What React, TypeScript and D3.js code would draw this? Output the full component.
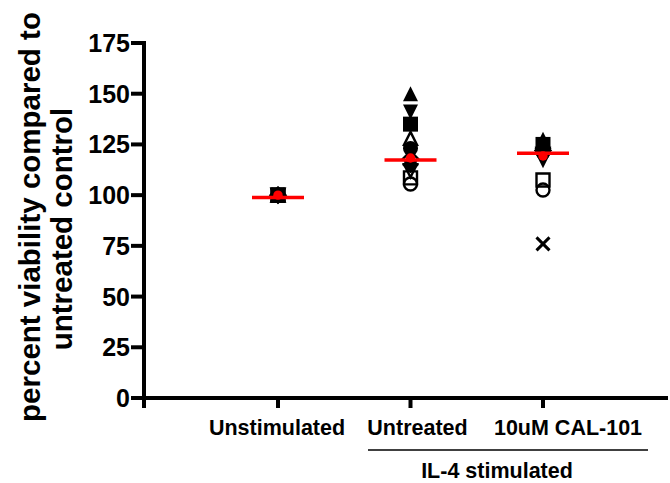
import React from "react";
import * as d3 from "d3";

const categories = ["Unstimulated", "Untreated", "10uM CAL-101"];
const donorSymbols = [
  "circle", "square", "triangle", "triangleDown", "diamond",
  "circleOpen", "squareOpen", "triangleOpen", "triangleDownOpen", "diamondOpen", "cross",
];
const unstimulatedValues = [100, 100, 100, 100, 100, 100, 100, 100, 100, 100, 100];
const untreatedValues = [123, 135, 150, 141, 115, 105.5, 108.5, 128, 112, 118, null];
const cal101Values = [121, 125, 127.5, 117, 123, 102.5, 107.5, 124, 120, 122, 76];
const groupMeans = [100, 118.3, 119.3];
const groupLines = [98.8, 117.3, 120.6];
const yTicks = [0, 25, 50, 75, 100, 125, 150, 175];
const groupLabel = "IL-4 stimulated";
const yTitle = ["percent viability compared to", "untreated control"];

const W = 670, H = 483;
const FONT = "Arial, 'Liberation Sans', Helvetica, sans-serif";

function symbolPath(kind: string, s: number): string {
  const h = s / 2;
  switch (kind.replace("Open", "")) {
    case "circle": {
      const p = d3.path();
      p.arc(0, 0, h, 0, Math.PI * 2);
      p.closePath();
      return p.toString();
    }
    case "square":
      return `M${-h},${-h}H${h}V${h}H${-h}Z`;
    case "triangle":
      return `M0,${-h}L${h},${h}L${-h},${h}Z`;
    case "triangleDown":
      return `M0,${h}L${h},${-h}L${-h},${-h}Z`;
    case "diamond":
      return `M0,${-h - 1}L${h + 1},0L0,${h + 1}L${-h - 1},0Z`;
    case "cross":
      return `M${-h},${-h}L${h},${h}M${h},${-h}L${-h},${h}`;
  }
  return "";
}

export default function App() {
  const x = d3.scalePoint<string>().domain(categories).range([278, 543]).padding(0);
  const y = d3.scaleLinear().domain([0, 175]).range([398, 43]);
  const groups = [unstimulatedValues, untreatedValues, cal101Values];
  const labelShift = [-1, 7, 25];
  const axisLeft = 144;
  const axisRight = 668;

  return (
    <svg width={W} height={H} style={{ position: "absolute", left: 0, top: 0, background: "#fff" }}
      fontFamily={FONT}>
      {/* Y axis */}
      <line x1={axisLeft} x2={axisLeft} y1={y(175) - 2} y2={408} stroke="#000" strokeWidth={4} />
      {yTicks.map((t) => (
        <g key={t}>
          <line x1={131} x2={axisLeft} y1={y(t)} y2={y(t)} stroke="#000" strokeWidth={4} />
          <text x={130} y={y(t) + 9} textAnchor="end" fontSize={25} fontWeight="bold">{t}</text>
        </g>
      ))}
      {/* X axis */}
      <line x1={axisLeft} x2={axisRight} y1={y(0)} y2={y(0)} stroke="#000" strokeWidth={4} />
      {categories.map((c, i) => (
        <g key={c}>
          <line x1={x(c)} x2={x(c)} y1={y(0)} y2={408} stroke="#000" strokeWidth={4} />
          <text x={(x(c) as number) + labelShift[i]} y={435} textAnchor="middle" fontSize={21.5} fontWeight="bold">{c}</text>
        </g>
      ))}
      <line x1={368} x2={648} y1={450} y2={450} stroke="#000" strokeWidth={1.5} />
      <text x={497} y={478} textAnchor="middle" fontSize={21.5} fontWeight="bold">{groupLabel}</text>

      {/* Y title */}
      <text transform={`translate(40,217) rotate(-90)`} textAnchor="middle" fontSize={29.5} fontWeight="bold">{yTitle[0]}</text>
      <text transform={`translate(72,229) rotate(-90)`} textAnchor="middle" fontSize={29.5} fontWeight="bold">{yTitle[1]}</text>

      {/* Points */}
      {donorSymbols.map((sym, di) => (
        <g key={sym}>
          {groups.map((vals, gi) => {
            const v = vals[di];
            if (v == null) return null;
            const open = sym.endsWith("Open");
            const cross = sym === "cross";
            return (
              <path key={gi}
                transform={`translate(${x(categories[gi])},${y(v)})`}
                d={symbolPath(sym, open ? 13 : cross ? 13 : 15)}
                fill={open || cross ? "none" : "#000"}
                stroke="#000"
                strokeWidth={open ? 2.4 : cross ? 3 : 0}
              />
            );
          })}
        </g>
      ))}

      {/* Mean lines and dots */}
      {categories.map((c, i) => (
        <g key={c}>
          <line x1={(x(c) as number) - 26} x2={(x(c) as number) + 26} y1={y(groupLines[i])} y2={y(groupLines[i])}
            stroke="#ff0000" strokeWidth={3.5} />
          <circle cx={x(c)} cy={y(groupMeans[i])} r={4.7} fill="#ff0000" />
        </g>
      ))}
    </svg>
  );
}
